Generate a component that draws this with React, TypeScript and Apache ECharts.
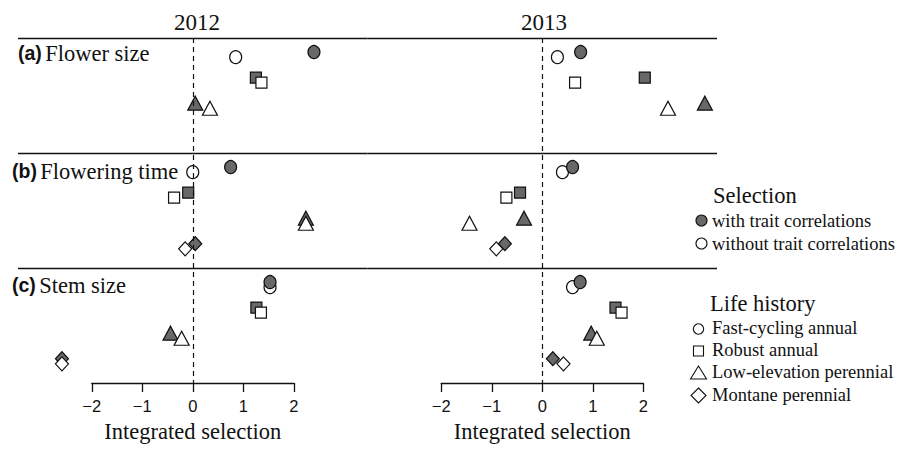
import React, { useEffect, useRef } from "react";
import * as echarts from "echarts";

// ---------- data ----------
const years = ["2012", "2013"];
const traits = ["Flower size", "Flowering time", "Stem size"];
const traitTags = ["(a)", "(b)", "(c)"];
const lifeHistories = ["Fast-cycling annual", "Robust annual", "Low-elevation perennial", "Montane perennial"];
const selectionLabels = ["with trait correlations", "without trait correlations"];
const xTicks = [-2, -1, 0, 1, 2];

// rows = traits, columns = life histories (null = not estimated)
const with2012 = [
  [2.40, 1.25, 0.05, null],
  [0.75, -0.09, 2.24, 0.05],
  [1.53, 1.26, -0.44, -2.59],
];
const without2012 = [
  [0.85, 1.36, 0.34, null],
  [0.0, -0.37, 2.24, -0.15],
  [1.53, 1.35, -0.22, -2.59],
];
const with2013 = [
  [0.76, 2.03, 3.22, null],
  [0.60, -0.44, -0.36, -0.74],
  [0.75, 1.45, 0.97, 0.21],
];
const without2013 = [
  [0.30, 0.65, 2.49, null],
  [0.40, -0.71, -1.44, -0.91],
  [0.60, 1.57, 1.08, 0.42],
];

// ---------- styling ----------
const SERIF = "'Liberation Serif', 'Times New Roman', serif";
const SANS = "'Liberation Sans', Arial, sans-serif";
const INK = "#111";
const FILL = "#686868";
const ROW = 4.5; // row height in level units
const LEVEL0 = 0.65;
const JITTER = 0.1;
const shapes = ["circle", "rect", "triangle", "diamond"];
const symbolSizes: any[] = [[12, 13], [11, 11], [15, 14], [13, 14]];

export default function App() {
  const ref = useRef<HTMLDivElement>(null);

  useEffect(() => {
    if (!ref.current) return;
    const chart = echarts.init(ref.current, undefined, { renderer: "svg" });

    const panels = [
      { withV: with2012, withoutV: without2012 },
      { withV: with2013, withoutV: without2013 },
    ];

    const series: any[] = [];
    panels.forEach((p, pi) => {
      shapes.forEach((shape, k) => {
        const order = k === 0 ? ["open", "filled"] : ["filled", "open"];
        order.forEach((kind) => {
          const vals = kind === "filled" ? p.withV : p.withoutV;
          const dy = kind === "filled" ? -JITTER : JITTER;
          const data = traits
            .map((_, r) => (vals[r][k] == null ? null : [vals[r][k], r * ROW + LEVEL0 + k + dy]))
            .filter((d) => d != null);
          series.push({
            type: "scatter",
            name: `${years[pi]} ${lifeHistories[k]} ${kind}`,
            xAxisIndex: pi,
            yAxisIndex: pi,
            symbol: shape,
            symbolSize: symbolSizes[k],
            itemStyle: {
              color: kind === "filled" ? FILL : "#fff",
              borderColor: INK,
              borderWidth: 1.2,
              opacity: 1,
            },
            data,
            z: 2,
          });
        });
      });
      // separators and zero line
      series.push({
        type: "line",
        xAxisIndex: pi,
        yAxisIndex: pi,
        data: [],
        z: 3,
        markLine: {
          silent: true,
          symbol: "none",
          label: { show: false },
          animation: false,
          data: [
            ...traits.map((_, r) => ({ yAxis: r * ROW, lineStyle: { color: INK, width: 1.4, type: "solid" } })),
            { xAxis: 0, lineStyle: { color: INK, width: 1.2, type: [5, 4] } },
          ],
        },
      });
    });

    const graphic: any[] = [];
    [197, 544].forEach((x, i) =>
      graphic.push({
        type: "text",
        x,
        y: 22,
        style: { text: years[i], font: `23px ${SERIF}`, fill: INK, align: "center", verticalAlign: "middle" },
      })
    );
    const rowLabelX = [18, 12, 12];
    const rowLabelY = [53, 171, 285];
    traits.forEach((t, r) =>
      graphic.push({
        type: "text",
        x: rowLabelX[r],
        y: rowLabelY[r],
        style: {
          text: `{b|${traitTags[r]}} {n|${t}}`,
          verticalAlign: "middle",
          rich: {
            b: { font: `bold 19.5px ${SANS}`, fill: INK },
            n: { font: `22.5px ${SERIF}`, fill: INK },
          },
        },
      })
    );
    graphic.push({
      type: "text",
      x: 713,
      y: 195,
      style: { text: "Selection", font: `22.5px ${SERIF}`, fill: INK, verticalAlign: "middle" },
    });
    [220.5, 243.5].forEach((y, i) => {
      graphic.push({
        type: "circle",
        shape: { cx: 701.5, cy: y, r: 5.5 },
        style: { fill: i === 0 ? FILL : "#fff", stroke: INK, lineWidth: 1.1 },
      });
      graphic.push({
        type: "text",
        x: 712,
        y,
        style: { text: selectionLabels[i], font: `18.5px ${SERIF}`, fill: INK, verticalAlign: "middle" },
      });
    });
    graphic.push({
      type: "text",
      x: 710,
      y: 303,
      style: { text: "Life history", font: `22.5px ${SERIF}`, fill: INK, verticalAlign: "middle" },
    });
    const lhY = [329, 351, 373, 395.5];
    const mx = 698.5;
    const mStyle = { fill: "#fff", stroke: INK, lineWidth: 1.1 };
    graphic.push({ type: "circle", shape: { cx: mx, cy: lhY[0], r: 5.2 }, style: mStyle });
    graphic.push({ type: "rect", shape: { x: mx - 5, y: lhY[1] - 5, width: 10, height: 10 }, style: mStyle });
    graphic.push({
      type: "polygon",
      shape: { points: [[mx - 8, lhY[2] + 6], [mx + 8, lhY[2] + 6], [mx, lhY[2] - 7]] },
      style: mStyle,
    });
    graphic.push({
      type: "polygon",
      shape: { points: [[mx, lhY[3] - 7.5], [mx + 7.5, lhY[3]], [mx, lhY[3] + 7.5], [mx - 7.5, lhY[3]]] },
      style: mStyle,
    });
    lifeHistories.forEach((lh, i) =>
      graphic.push({
        type: "text",
        x: 712,
        y: lhY[i] - 1,
        style: { text: lh, font: `18.5px ${SERIF}`, fill: INK, verticalAlign: "middle" },
      })
    );

    const dataXAxis = (gi: number) => ({
      type: "value",
      gridIndex: gi,
      min: -3.46,
      max: 3.46,
      show: false,
    });
    const tickXAxis = (gi: number) => ({
      type: "value",
      gridIndex: gi,
      min: xTicks[0],
      max: xTicks[xTicks.length - 1],
      interval: 1,
      position: "bottom",
      axisLine: { show: true, onZero: false, lineStyle: { color: INK, width: 1.3 } },
      axisTick: { show: true, inside: false, length: 9, lineStyle: { color: INK, width: 1.3 } },
      axisLabel: {
        show: true,
        margin: 14,
        color: INK,
        fontFamily: SANS,
        fontSize: 16.5,
        formatter: (v: number) => (v < 0 ? "\u2212" + Math.abs(v) : String(v)),
      },
      splitLine: { show: false },
      name: "Integrated selection",
      nameLocation: "middle",
      nameGap: 37,
      nameTextStyle: { color: INK, fontFamily: SERIF, fontSize: 22.5 },
    });

    chart.setOption({
      animation: false,
      backgroundColor: "#fff",
      grid: [
        { left: 18, top: 38, width: 349.5, height: 345 },
        { left: 367.5, top: 38, width: 349.5, height: 345 },
        { left: 91.75, top: 373, width: 202, height: 10 },
        { left: 441.25, top: 373, width: 202, height: 10 },
      ],
      xAxis: [dataXAxis(0), dataXAxis(1), tickXAxis(2), tickXAxis(3)],
      yAxis: [
        { type: "value", gridIndex: 0, inverse: true, min: 0, max: traits.length * ROW, show: false },
        { type: "value", gridIndex: 1, inverse: true, min: 0, max: traits.length * ROW, show: false },
        { type: "value", gridIndex: 2, min: 0, max: 1, show: false },
        { type: "value", gridIndex: 3, min: 0, max: 1, show: false },
      ],
      series,
      graphic,
    });

    return () => chart.dispose();
  }, []);

  return (
    <div
      ref={ref}
      style={{ position: "absolute", left: 0, top: 0, width: 900, height: 450, background: "#fff" }}
    />
  );
}
